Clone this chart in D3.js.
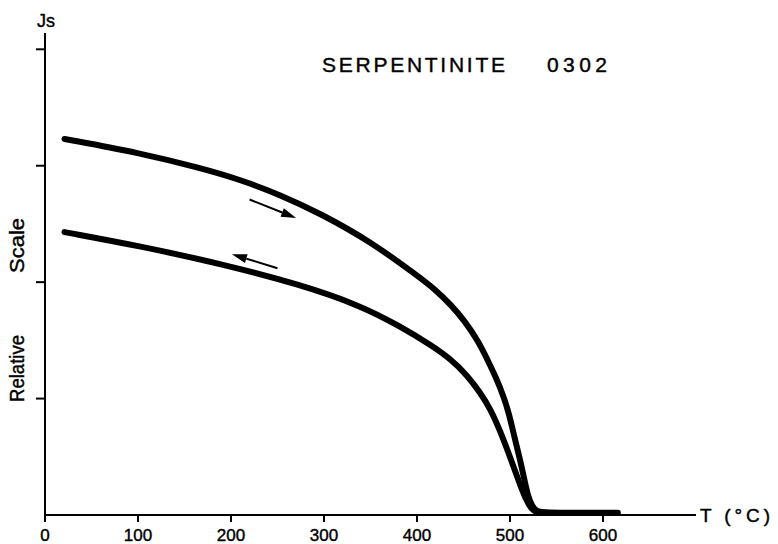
<!DOCTYPE html>
<html>
<head>
<meta charset="utf-8">
<script src="https://cdn.jsdelivr.net/npm/d3@7"></script>
<style>
  html, body { margin: 0; padding: 0; background: #fff; }
  svg { display: block; }
  text { font-family: "Liberation Sans", "DejaVu Sans", sans-serif; fill: #000; stroke: #000; stroke-width: 0.4px; }
</style>
</head>
<body>
<svg id="chart" width="778" height="544"></svg>
<script>
// Thermomagnetic curve of serpentinite sample 0302: saturation magnetization
// Js (relative scale) against temperature, heating and cooling runs.

const heatT = [21, 102, 167, 210, 253, 296, 350, 403, 419, 436, 452, 466, 476, 485, 493, 499, 505, 511, 515, 519, 524, 529, 538, 575, 616];
const heatJ = [3.23, 3.11, 2.98, 2.88, 2.75, 2.59, 2.35, 2.04, 1.94, 1.81, 1.66, 1.49, 1.33, 1.18, 1.02, 0.87, 0.66, 0.47, 0.32, 0.17, 0.07, 0.03, 0.02, 0.02, 0.02];

const coolT = [21, 102, 188, 274, 339, 382, 417, 436, 454, 468, 479, 489, 500, 509, 517, 524, 530];
const coolJ = [2.43, 2.31, 2.16, 1.98, 1.80, 1.62, 1.45, 1.34, 1.20, 1.05, 0.91, 0.73, 0.50, 0.30, 0.13, 0.04, 0.02];

const xTicks = [0, 100, 200, 300, 400, 500, 600];
const yTicks = [1, 2, 3, 4];

// Direction arrows: [T start, J start, T end, J end]
const heatArrow = [220, 2.71, 270, 2.55];
const coolArrow = [250, 2.12, 201, 2.24];

const svg = d3.select("#chart");

const x = d3.scaleLinear().domain([0, 700]).range([45, 696]);
const y = d3.scaleLinear().domain([0, 4.14]).range([515, 33]);

// Axes
const g = svg.append("g");
g.append("line")
  .attr("x1", x(0)).attr("x2", x(700))
  .attr("y1", y(0)).attr("y2", y(0))
  .attr("stroke", "#000").attr("stroke-width", 2);
g.append("line")
  .attr("x1", x(0)).attr("x2", x(0))
  .attr("y1", y(0) + 4).attr("y2", y(4.14))
  .attr("stroke", "#000").attr("stroke-width", 2);

g.selectAll(".xt").data(xTicks).join("line")
  .attr("x1", d => x(d)).attr("x2", d => x(d))
  .attr("y1", y(0)).attr("y2", y(0) + 7)
  .attr("stroke", "#000").attr("stroke-width", 2);

g.selectAll(".xl").data(xTicks).join("text")
  .attr("x", d => x(d)).attr("y", y(0) + 26)
  .attr("text-anchor", "middle")
  .attr("font-size", 17)
  .text(d => d);

g.selectAll(".yt").data(yTicks).join("line")
  .attr("x1", x(0) - 9).attr("x2", x(0))
  .attr("y1", d => y(d)).attr("y2", d => y(d))
  .attr("stroke", "#000").attr("stroke-width", 2);

// Axis labels
svg.append("text").attr("x", 37).attr("y", 27).attr("font-size", 18).text("Js");
svg.append("text").attr("x", 700).attr("y", 522).attr("font-size", 19)
  .attr("textLength", 70).attr("lengthAdjust", "spacing").text("T (°C)");
svg.append("text")
  .attr("transform", "translate(24,402) rotate(-90)")
  .attr("font-size", 21).attr("textLength", 67).attr("lengthAdjust", "spacingAndGlyphs")
  .text("Relative");
svg.append("text")
  .attr("transform", "translate(24,273) rotate(-90)")
  .attr("font-size", 21).attr("textLength", 55).attr("lengthAdjust", "spacingAndGlyphs")
  .text("Scale");

// Title
svg.append("text").attr("x", 322).attr("y", 72).attr("font-size", 21)
  .attr("textLength", 183).attr("lengthAdjust", "spacing").text("SERPENTINITE");
svg.append("text").attr("x", 547).attr("y", 72).attr("font-size", 21)
  .attr("textLength", 60).attr("lengthAdjust", "spacing").text("0302");

// Curves (B-spline through the readings for a smooth pen trace)
const line = d3.line()
  .x(d => x(d[0])).y(d => y(d[1]))
  .curve(d3.curveBasis);

const heat = heatT.map((t, i) => [t, heatJ[i]]);
const cool = coolT.map((t, i) => [t, coolJ[i]]);

[heat, cool].forEach(data => {
  svg.append("path")
    .datum(data)
    .attr("d", line)
    .attr("fill", "none")
    .attr("stroke", "#000")
    .attr("stroke-width", 6)
    .attr("stroke-linecap", "round")
    .attr("stroke-linejoin", "round");
});

// Arrows
function arrow(a) {
  const x1 = x(a[0]), y1 = y(a[1]), x2 = x(a[2]), y2 = y(a[3]);
  const ang = Math.atan2(y2 - y1, x2 - x1);
  const len = 15, half = 4.5;
  const bx = x2 - len * Math.cos(ang), by = y2 - len * Math.sin(ang);
  svg.append("line")
    .attr("x1", x1).attr("y1", y1).attr("x2", bx).attr("y2", by)
    .attr("stroke", "#000").attr("stroke-width", 2);
  const px = -Math.sin(ang) * half, py = Math.cos(ang) * half;
  svg.append("path")
    .attr("d", `M${x2},${y2}L${bx + px},${by + py}L${bx - px},${by - py}Z`)
    .attr("fill", "#000");
}
arrow(heatArrow);
arrow(coolArrow);
</script>
</body>
</html>
